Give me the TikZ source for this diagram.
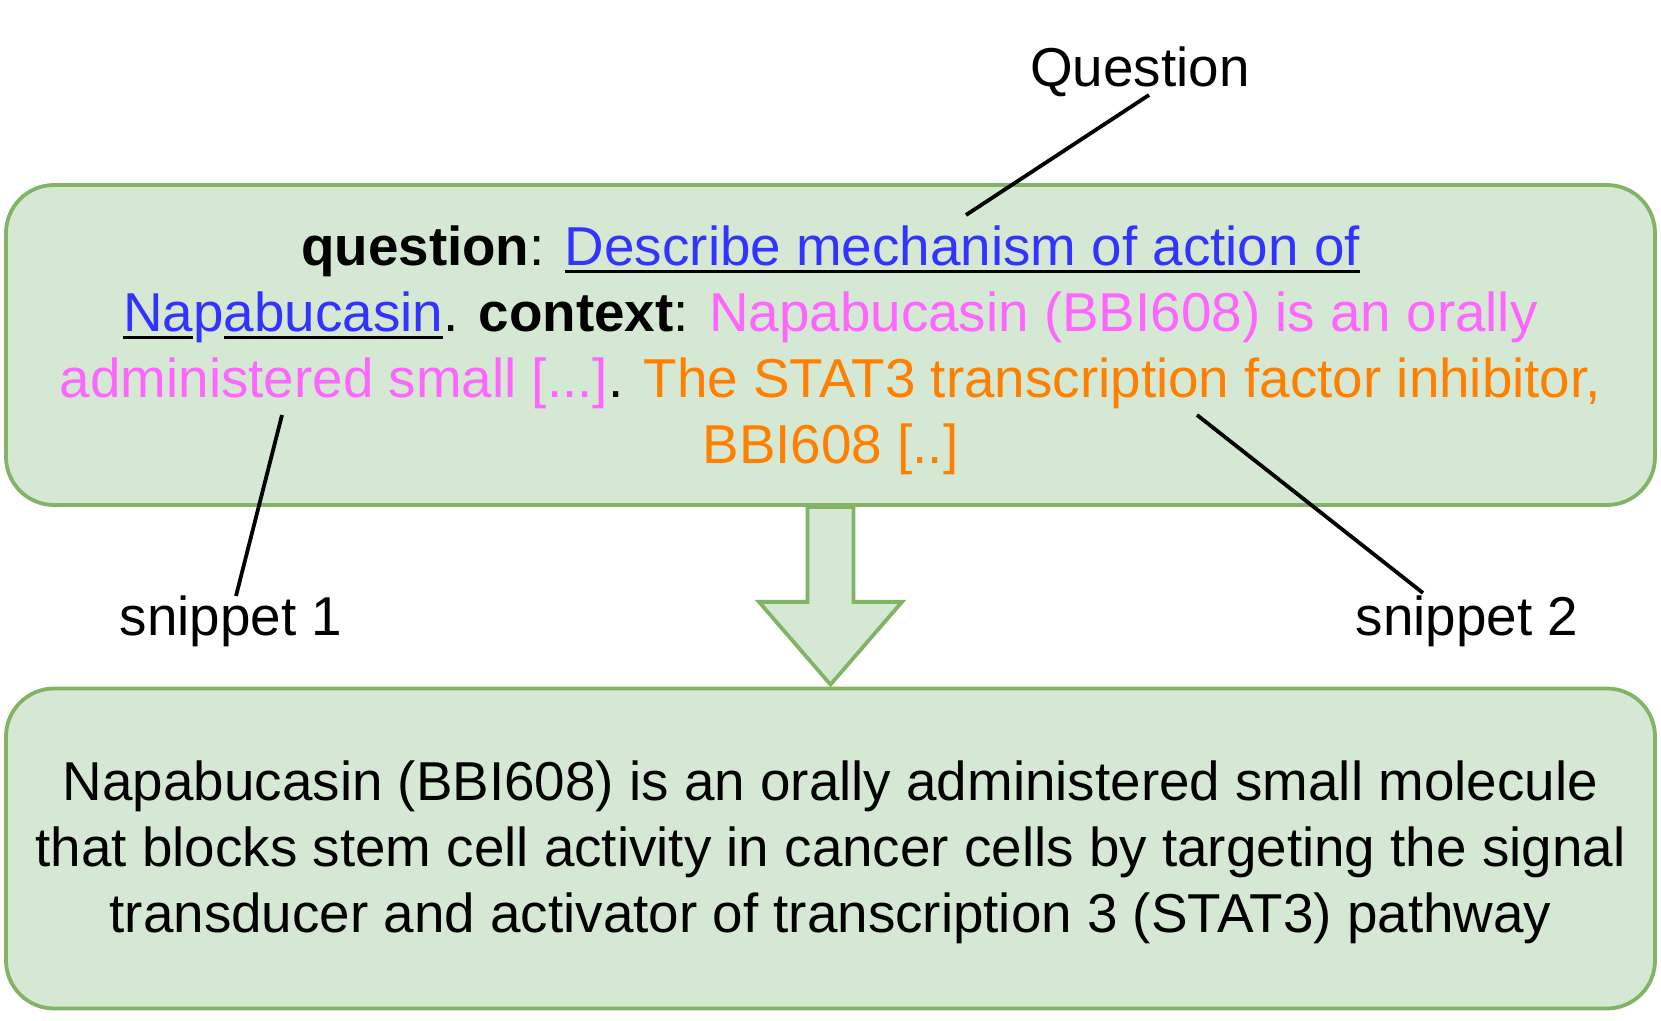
\documentclass[tikz,border=0pt]{standalone}
\usepackage{fontspec}
\setmainfont{Liberation Sans}
\usetikzlibrary{calc}
\definecolor{boxfill}{HTML}{D5E8D4}
\definecolor{boxline}{HTML}{82B366}
\definecolor{qblue}{HTML}{3333FF}
\definecolor{spink}{HTML}{FF66FF}
\definecolor{sorange}{HTML}{FF8000}
\newsavebox\myulbox
\newcommand\blul[1]{\sbox\myulbox{#1}\rlap{\color{black}\rule[-0.15em]{\wd\myulbox}{0.06em}}\usebox\myulbox}
\tikzset{
  greenbox/.style={draw=boxline, fill=boxfill, line width=1.9pt, rounded corners=24pt,
    minimum width=824.5pt, minimum height=160pt, inner sep=0pt},
  boxtext/.style={align=center, inner sep=0pt, font=\fontsize{27.4pt}{33pt}\selectfont},
  lbl/.style={font=\fontsize{27.4pt}{33pt}\selectfont, inner sep=0pt},
  leader/.style={draw=black, line width=1.9pt},
  bigarrow/.style={draw=boxline, fill=boxfill, line width=1.9pt}
}
\begin{document}
\begin{tikzpicture}[x=0.5pt,y=-0.5pt]
\useasboundingbox (0,0) rectangle (1661,1021);
% boxes
\node[greenbox] (top) at (830.5,345) {};
\node[greenbox] (bot) at (830.5,848.5) {};
\node[boxtext] (toptext) at ($(top.center)+(0,5)$) {%
  \textbf{question}: \textcolor{qblue}{\blul{Describe mechanism of action of}}\\
  \textcolor{qblue}{\blul{Na}p\blul{abucasin}}. \textbf{context}: \textcolor{spink}{Napabucasin (BBI608) is an orally}\\
  \textcolor{spink}{administered small [...]}. \textcolor{sorange}{The STAT3 transcription factor inhibitor,}\\
  \textcolor{sorange}{BBI608 [..]}};
\node[boxtext] (bottext) at ($(bot.center)+(0,4)$) {%
  Napabucasin (BBI608) is an orally administered small molecule\\
  that blocks stem cell activity in cancer cells by targeting the signal\\
  transducer and activator of transcription 3 (STAT3) pathway};
% big arrow between the boxes
\draw[bigarrow]
  ($(top.south)+(-23,0)$) -- ($(top.south)+(23,0)$) -- ($(top.south)+(23,95)$)
  -- ($(top.south)+(71.5,95)$) -- ($(bot.north)+(0,-2)$) -- ($(top.south)+(-71.5,95)$)
  -- ($(top.south)+(-23,95)$) -- cycle;
% labels
\node[lbl] (qlab) at (1140,72) {Question};
\node[lbl] (s1lab) at (231,621) {snippet 1};
\node[lbl] (s2lab) at (1467,621) {snippet 2};
% leader end points
\coordinate (qa) at (1149,95);
\coordinate (qb) at (966,215);
\coordinate (s1a) at (236,596);
\coordinate (s1b) at (282,415);
\coordinate (s2a) at (1423,593);
\coordinate (s2b) at (1197,415);
\draw[leader] (qa) -- (qb);
\draw[leader] (s1a) -- (s1b);
\draw[leader] (s2a) -- (s2b);
\end{tikzpicture}
\end{document}
